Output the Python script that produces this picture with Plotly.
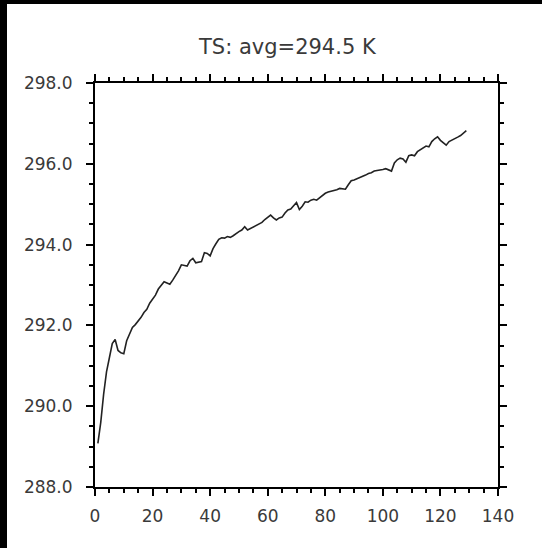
import plotly.graph_objects as go

x_vals = list(range(1, 130))
ts_vals = [
    289.08, 289.60, 290.30, 290.85, 291.20, 291.55, 291.65, 291.38, 291.32, 291.30,
    291.62, 291.80, 291.95, 292.02, 292.10, 292.20, 292.32, 292.40, 292.55, 292.65,
    292.75, 292.90, 293.00, 293.08, 293.05, 293.02, 293.12, 293.22, 293.35, 293.50,
    293.48, 293.47, 293.60, 293.66, 293.55, 293.56, 293.58, 293.80, 293.78, 293.72,
    293.90, 294.02, 294.13, 294.17, 294.16, 294.20, 294.18, 294.22, 294.28, 294.32,
    294.36, 294.44, 294.36, 294.40, 294.44, 294.47, 294.51, 294.55, 294.62, 294.68,
    294.73, 294.66, 294.61, 294.66, 294.68, 294.78, 294.86, 294.88, 294.95, 295.04,
    294.87, 294.95, 295.06, 295.05, 295.10, 295.12, 295.10, 295.16, 295.22, 295.27,
    295.30, 295.32, 295.33, 295.36, 295.39, 295.38, 295.37, 295.48, 295.58, 295.60,
    295.63, 295.67, 295.68, 295.72, 295.76, 295.78, 295.82, 295.83, 295.85, 295.86,
    295.88, 295.85, 295.82, 296.02, 296.10, 296.14, 296.12, 296.04, 296.20, 296.22,
    296.20, 296.30, 296.34, 296.40, 296.44, 296.42, 296.55, 296.62, 296.67, 296.58,
    296.52, 296.46, 296.55, 296.58, 296.62, 296.66, 296.70, 296.76, 296.82,
]
x_ticks = [0, 20, 40, 60, 80, 100, 120, 140]
y_ticks = [288.0, 290.0, 292.0, 294.0, 296.0, 298.0]
title_text = "TS: avg=294.5 K"

W, H = 542, 548
L, R, T, B = 95, 44, 83, 61
pw, ph = W - L - R, H - T - B

fig = go.Figure()
fig.add_trace(go.Scatter(x=x_vals, y=ts_vals, mode="lines",
                         line=dict(color="#222222", width=1.6), showlegend=False))

font = dict(family="DejaVu Sans, sans-serif", size=17, color="#3a3a3a")
axis_common = dict(showgrid=False, zeroline=False, showline=True, linecolor="black",
                   linewidth=2, mirror="ticks", ticks="outside", ticklen=7,
                   tickwidth=2, tickcolor="black", tickfont=font)

fig.update_xaxes(range=[0, 140], tickvals=x_ticks, ticktext=[str(v) for v in x_ticks],
                 ticklabelstandoff=6,
                 minor=dict(dtick=5, tick0=0, ticks="outside", ticklen=4,
                            tickwidth=1.5, tickcolor="black"),
                 **axis_common)
fig.update_yaxes(range=[288, 298], tickvals=y_ticks, ticktext=[f"{v:.1f}" for v in y_ticks],
                 ticklabelstandoff=10,
                 minor=dict(dtick=0.5, tick0=288, ticks="outside", ticklen=4,
                            tickwidth=1.5, tickcolor="black"),
                 **axis_common)

# black frame bands (left and top)
fig.add_shape(type="rect", xref="paper", yref="paper",
              x0=(0 - L) / pw, x1=(7 - L) / pw, y0=-B / ph, y1=1 + T / ph,
              fillcolor="black", line=dict(width=0), layer="above")
fig.add_shape(type="rect", xref="paper", yref="paper",
              x0=-L / pw, x1=1 + R / pw, y0=1 + (T - 4) / ph, y1=1 + T / ph,
              fillcolor="black", line=dict(width=0), layer="above")

fig.add_annotation(text=title_text, xref="paper", yref="paper",
                   x=(287 - L) / pw, y=1 + (T - 47) / ph, xanchor="center", yanchor="middle",
                   showarrow=False,
                   font=dict(family="DejaVu Sans, sans-serif", size=21, color="#3a3a3a"))

fig.update_layout(width=W, height=H, margin=dict(l=L, r=R, t=T, b=B),
                  paper_bgcolor="white", plot_bgcolor="white")

fig.write_html("out.html")
